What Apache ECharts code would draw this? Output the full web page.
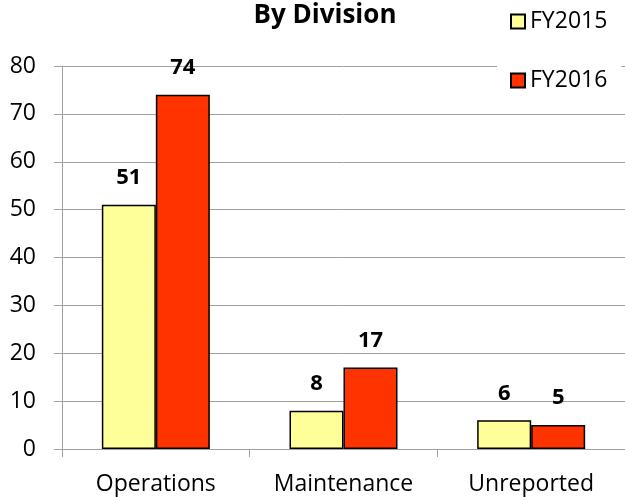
<!DOCTYPE html>
<html><head><meta charset="utf-8">
<script src="https://cdn.jsdelivr.net/npm/echarts@6/dist/echarts.min.js"></script>
<style>html,body{margin:0;padding:0;background:#fff}#c{width:625px;height:497px}</style>
</head><body><div id="c"></div>
<script>
const categories = ['Operations', 'Maintenance', 'Unreported'];
const fy2015 = [51, 8, 6];
const fy2016 = [74, 17, 5];
const seriesNames = ['FY2015', 'FY2016'];
const yTicks = {min: 0, max: 80, interval: 10};

const FONT = '"Open Sans", "Noto Sans", sans-serif';
const chart = echarts.init(document.getElementById('c'), null, {renderer: 'canvas'});
const labelCfg = {show: true, position: 'top', distance: 16, color: '#000', fontWeight: 'bold', fontSize: 22, fontFamily: FONT};
chart.setOption({
  animation: false,
  title: {text: 'By Division', left: 320, textAlign: 'center', top: -2,
    textStyle: {fontFamily: FONT, fontWeight: 'bold', fontSize: 26, color: '#000'}},
  legend: {
    orient: 'vertical', left: 497, top: 0,
    padding: [10, 14, 10, 13],
    backgroundColor: '#fff',
    itemGap: 36, itemWidth: 14, itemHeight: 14,
    icon: 'rect',
    textStyle: {fontFamily: FONT, fontSize: 23, color: '#000'},
    data: seriesNames
  },
  grid: {left: 62, right: 0, top: 66, bottom: 48, containLabel: false},
  xAxis: {
    type: 'category', data: categories,
    axisLine: {lineStyle: {color: '#a0a0a0', width: 1}},
    axisTick: {show: true, length: 8, lineStyle: {color: '#a0a0a0'}},
    axisLabel: {fontFamily: FONT, fontSize: 23, color: '#000', margin: 24}
  },
  yAxis: {
    type: 'value', min: yTicks.min, max: yTicks.max, interval: yTicks.interval,
    axisLine: {show: true, lineStyle: {color: '#a0a0a0'}},
    axisTick: {show: true, length: 8, lineStyle: {color: '#a0a0a0'}},
    splitLine: {lineStyle: {color: '#a0a0a0', width: 1}},
    axisLabel: {fontFamily: FONT, fontSize: 23, color: '#000', margin: 26}
  },
  series: [
    {name: seriesNames[0], type: 'bar', data: fy2015, barWidth: 54, barGap: '0%',
     itemStyle: {color: '#FFFF99', borderColor: '#000', borderWidth: 1.5}, label: labelCfg},
    {name: seriesNames[1], type: 'bar', data: fy2016, barWidth: 54, barGap: '0%',
     itemStyle: {color: '#FF3300', borderColor: '#000', borderWidth: 1.5}, label: labelCfg}
  ]
});
</script></body></html>
